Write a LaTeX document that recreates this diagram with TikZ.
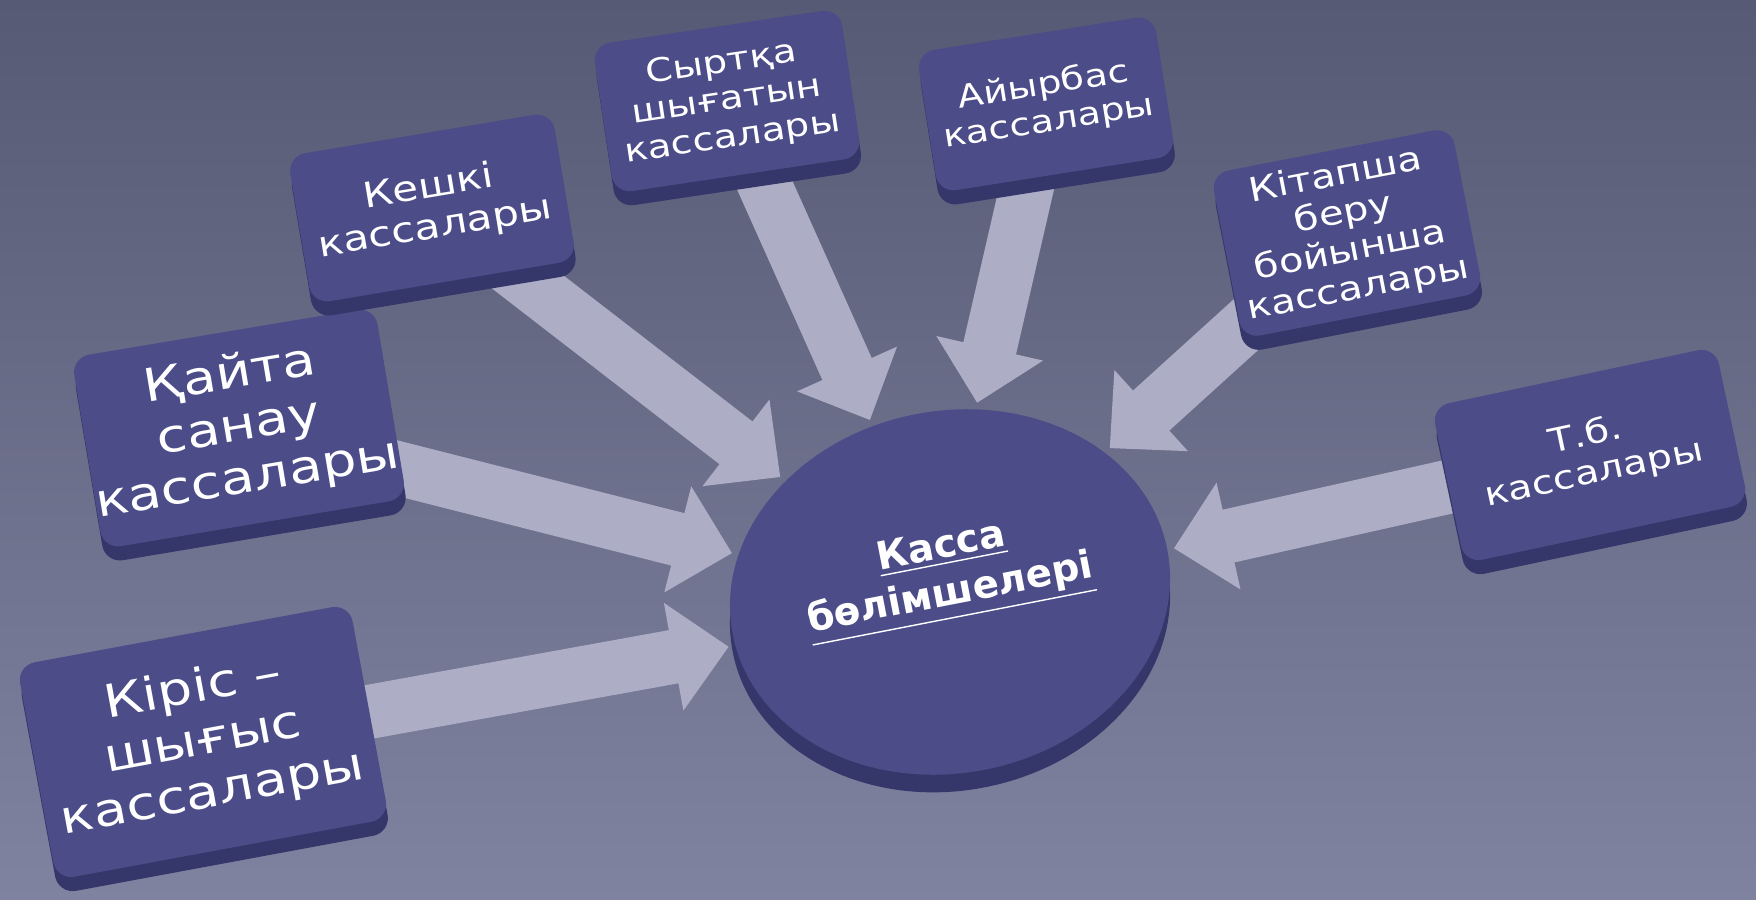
\documentclass[tikz,border=0pt]{standalone}
\usepackage{fontspec}
\setmainfont{DejaVu Sans}
\newfontfamily\boxfont[FakeStretch=1.2]{DejaVu Sans}
\usetikzlibrary{arrows.meta,shapes.geometric,shadows}

\definecolor{bgtop}{HTML}{575A74}
\definecolor{bgbottom}{HTML}{8083A0}
\definecolor{boxblue}{HTML}{4B4C88}
\definecolor{boxside}{HTML}{35366A}
\definecolor{arrowgrey}{HTML}{ADADC5}

\pgfdeclarelayer{bg}
\pgfdeclarelayer{arrows}
\pgfsetlayers{bg,arrows,main}

\begin{document}
\begin{tikzpicture}[x=0.01cm, y=-0.01cm,
    kassa/.style={fill=boxblue, text=white, rounded corners=0.18cm, align=center, inner sep=0pt,
        general shadow={fill=boxside, shadow xshift=0.5pt, shadow yshift=-4pt}},
    fs/.style 2 args={font=\boxfont\fontsize{#1}{#2}\selectfont},
    centre/.style={ellipse, fill=boxblue, text=white, align=center,
        general shadow={fill=boxside, shadow yshift=-5pt}},
    flow/.style={draw=arrowgrey, line width=0.54cm, -{Triangle[length=0.56cm, width=1.06cm]}, shorten >=0.06cm}]

    \useasboundingbox (0,0) rectangle (1756,900);

    \node[centre, rotate=11, minimum width=4.4cm, minimum height=3.62cm, text depth=0.5cm,
        font=\bfseries\fontsize{11}{13.5}\selectfont] (hub) at (950,592) {\underline{Касса}\\\underline{бөлімшелері}};

    \node[kassa, fs={13}{15}, rotate=10.5, minimum width=3.38cm, minimum height=2.18cm] (kiris) at (203,742) {Кіріс –\\шығыс\\кассалары};
    \node[kassa, fs={13}{15}, rotate=9.5, minimum width=3.04cm, minimum height=1.94cm] (qayta) at (239,428) {Қайта\\санау\\кассалары};
    \node[kassa, fs={10}{11.6}, rotate=9.5, minimum width=2.68cm, minimum height=1.5cm] (keshki) at (432,208) {Кешкі\\кассалары};
    \node[kassa, fs={9.2}{10.7}, rotate=8.5, minimum width=2.5cm, minimum height=1.5cm] (syrtqa) at (727,101) {Сыртқа\\шығатын\\кассалары};
    \node[kassa, fs={9}{10.5}, rotate=9, minimum width=2.4cm, minimum height=1.42cm] (aiyrbas) at (1046,104) {Айырбас\\кассалары};
    \node[kassa, fs={9.5}{10.9}, rotate=11, minimum width=2.45cm, minimum height=1.68cm] (kitapsha) at (1347,233) {Кітапша\\беру\\бойынша\\кассалары};
    \node[kassa, fs={9.4}{10.9}, rotate=12, minimum width=2.9cm, minimum height=1.6cm] (tb) at (1590,455) {Т.б.\\кассалары};

    % arrows go under the boxes
    \begin{pgfonlayer}{arrows}
        \foreach \src/\ang in {kiris/183, qayta/159, keshki/135, syrtqa/104, aiyrbas/71, kitapsha/31, tb/0}
            \draw[flow] (\src.center) -- (hub.\ang);
    \end{pgfonlayer}

    \begin{pgfonlayer}{bg}
        \shade[top color=bgtop, bottom color=bgbottom] (0,0) rectangle (1756,900);
    \end{pgfonlayer}

\end{tikzpicture}
\end{document}
